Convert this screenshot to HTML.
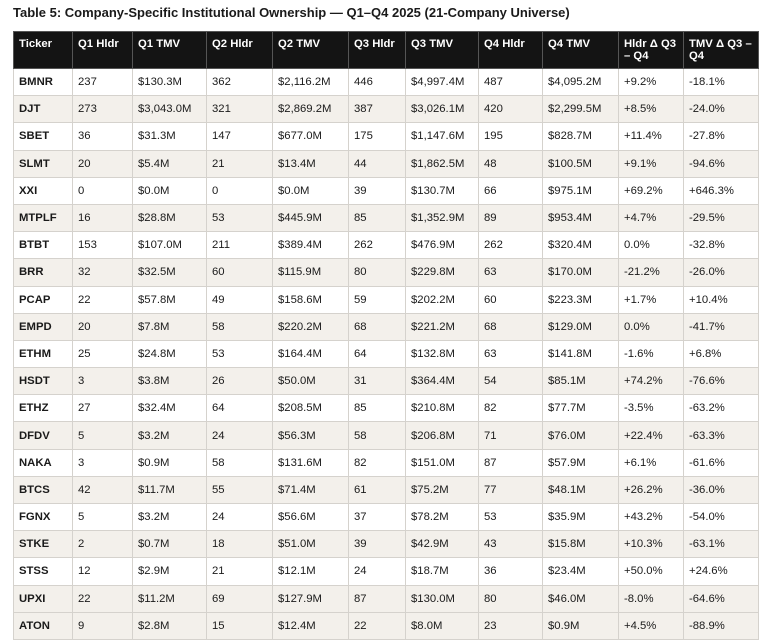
<!DOCTYPE html>
<html><head><meta charset="utf-8"><style>
body{margin:0;background:#fff;font-family:"Liberation Sans",Arial,sans-serif;color:#1a1a1a;}
.t{position:absolute;left:13px;top:5px;font-size:13px;font-weight:bold;}
table{position:absolute;left:13px;top:31px;border-collapse:collapse;table-layout:fixed;width:745px;font-size:11.3px;}
td,th{border:1.5px solid #d5d2cd;padding:0 0 0 5px;height:26.2px;text-align:left;white-space:nowrap;overflow:hidden;}
th{background:#141414;color:#fff;font-weight:bold;height:30px;vertical-align:top;padding-top:6px;line-height:12px;white-space:normal;border-color:#555;}
td:first-child{font-weight:bold;}
tr:nth-child(even) td{background:#f3f0eb;}
tr:nth-child(odd) td{background:#fff;}
tr:last-child td{background:#f3f0eb;}
</style></head><body>
<div class="t">Table 5: Company-Specific Institutional Ownership — Q1–Q4 2025 (21-Company Universe)</div>
<table>
<colgroup><col style="width:59px"><col style="width:60px"><col style="width:74px"><col style="width:66px"><col style="width:76px"><col style="width:57px"><col style="width:73px"><col style="width:64px"><col style="width:76px"><col style="width:65px"><col style="width:75px"></colgroup>
<thead><tr><th>Ticker</th><th>Q1 Hldr</th><th>Q1 TMV</th><th>Q2 Hldr</th><th>Q2 TMV</th><th>Q3 Hldr</th><th>Q3 TMV</th><th>Q4 Hldr</th><th>Q4 TMV</th><th>Hldr Δ Q3 – Q4</th><th>TMV Δ Q3 – Q4</th></tr></thead>
<tbody>
<tr><td>BMNR</td><td>237</td><td>$130.3M</td><td>362</td><td>$2,116.2M</td><td>446</td><td>$4,997.4M</td><td>487</td><td>$4,095.2M</td><td>+9.2%</td><td>-18.1%</td></tr>
<tr><td>DJT</td><td>273</td><td>$3,043.0M</td><td>321</td><td>$2,869.2M</td><td>387</td><td>$3,026.1M</td><td>420</td><td>$2,299.5M</td><td>+8.5%</td><td>-24.0%</td></tr>
<tr><td>SBET</td><td>36</td><td>$31.3M</td><td>147</td><td>$677.0M</td><td>175</td><td>$1,147.6M</td><td>195</td><td>$828.7M</td><td>+11.4%</td><td>-27.8%</td></tr>
<tr><td>SLMT</td><td>20</td><td>$5.4M</td><td>21</td><td>$13.4M</td><td>44</td><td>$1,862.5M</td><td>48</td><td>$100.5M</td><td>+9.1%</td><td>-94.6%</td></tr>
<tr><td>XXI</td><td>0</td><td>$0.0M</td><td>0</td><td>$0.0M</td><td>39</td><td>$130.7M</td><td>66</td><td>$975.1M</td><td>+69.2%</td><td>+646.3%</td></tr>
<tr><td>MTPLF</td><td>16</td><td>$28.8M</td><td>53</td><td>$445.9M</td><td>85</td><td>$1,352.9M</td><td>89</td><td>$953.4M</td><td>+4.7%</td><td>-29.5%</td></tr>
<tr><td>BTBT</td><td>153</td><td>$107.0M</td><td>211</td><td>$389.4M</td><td>262</td><td>$476.9M</td><td>262</td><td>$320.4M</td><td>0.0%</td><td>-32.8%</td></tr>
<tr><td>BRR</td><td>32</td><td>$32.5M</td><td>60</td><td>$115.9M</td><td>80</td><td>$229.8M</td><td>63</td><td>$170.0M</td><td>-21.2%</td><td>-26.0%</td></tr>
<tr><td>PCAP</td><td>22</td><td>$57.8M</td><td>49</td><td>$158.6M</td><td>59</td><td>$202.2M</td><td>60</td><td>$223.3M</td><td>+1.7%</td><td>+10.4%</td></tr>
<tr><td>EMPD</td><td>20</td><td>$7.8M</td><td>58</td><td>$220.2M</td><td>68</td><td>$221.2M</td><td>68</td><td>$129.0M</td><td>0.0%</td><td>-41.7%</td></tr>
<tr><td>ETHM</td><td>25</td><td>$24.8M</td><td>53</td><td>$164.4M</td><td>64</td><td>$132.8M</td><td>63</td><td>$141.8M</td><td>-1.6%</td><td>+6.8%</td></tr>
<tr><td>HSDT</td><td>3</td><td>$3.8M</td><td>26</td><td>$50.0M</td><td>31</td><td>$364.4M</td><td>54</td><td>$85.1M</td><td>+74.2%</td><td>-76.6%</td></tr>
<tr><td>ETHZ</td><td>27</td><td>$32.4M</td><td>64</td><td>$208.5M</td><td>85</td><td>$210.8M</td><td>82</td><td>$77.7M</td><td>-3.5%</td><td>-63.2%</td></tr>
<tr><td>DFDV</td><td>5</td><td>$3.2M</td><td>24</td><td>$56.3M</td><td>58</td><td>$206.8M</td><td>71</td><td>$76.0M</td><td>+22.4%</td><td>-63.3%</td></tr>
<tr><td>NAKA</td><td>3</td><td>$0.9M</td><td>58</td><td>$131.6M</td><td>82</td><td>$151.0M</td><td>87</td><td>$57.9M</td><td>+6.1%</td><td>-61.6%</td></tr>
<tr><td>BTCS</td><td>42</td><td>$11.7M</td><td>55</td><td>$71.4M</td><td>61</td><td>$75.2M</td><td>77</td><td>$48.1M</td><td>+26.2%</td><td>-36.0%</td></tr>
<tr><td>FGNX</td><td>5</td><td>$3.2M</td><td>24</td><td>$56.6M</td><td>37</td><td>$78.2M</td><td>53</td><td>$35.9M</td><td>+43.2%</td><td>-54.0%</td></tr>
<tr><td>STKE</td><td>2</td><td>$0.7M</td><td>18</td><td>$51.0M</td><td>39</td><td>$42.9M</td><td>43</td><td>$15.8M</td><td>+10.3%</td><td>-63.1%</td></tr>
<tr><td>STSS</td><td>12</td><td>$2.9M</td><td>21</td><td>$12.1M</td><td>24</td><td>$18.7M</td><td>36</td><td>$23.4M</td><td>+50.0%</td><td>+24.6%</td></tr>
<tr><td>UPXI</td><td>22</td><td>$11.2M</td><td>69</td><td>$127.9M</td><td>87</td><td>$130.0M</td><td>80</td><td>$46.0M</td><td>-8.0%</td><td>-64.6%</td></tr>
<tr><td>ATON</td><td>9</td><td>$2.8M</td><td>15</td><td>$12.4M</td><td>22</td><td>$8.0M</td><td>23</td><td>$0.9M</td><td>+4.5%</td><td>-88.9%</td></tr>
</tbody></table>
</body></html>
